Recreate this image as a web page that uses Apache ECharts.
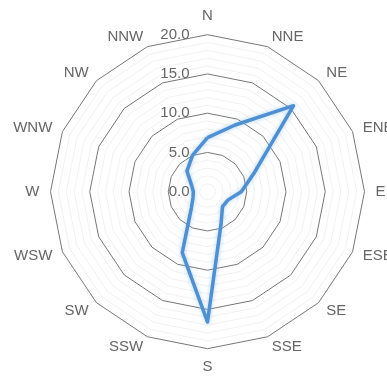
<!DOCTYPE html>
<html>
<head>
<meta charset="utf-8">
<script src="https://cdn.jsdelivr.net/npm/echarts@6/dist/echarts.min.js"></script>
<style>
  html, body { margin: 0; padding: 0; background: #fff; }
  #chart { width: 387px; height: 383px; }
</style>
</head>
<body>
<div id="chart"></div>
<script>
// Compass directions, listed clockwise from north
const directions = ['N', 'NNE', 'NE', 'ENE', 'E', 'ESE', 'SE', 'SSE',
                    'S', 'SSW', 'SW', 'WSW', 'W', 'WNW', 'NW', 'NNW'];
// Frequency per direction
const values = [6.9, 9.2, 15.5, 6.5, 4.3, 2.8, 2.7, 4.5,
                16.6, 8.4, 2.9, 2.0, 1.8, 2.2, 3.7, 5.0];
// Radial scale
const axisMin = 0;
const axisMax = 20;
const majorStep = 5;

// ECharts lays indicators out counter-clockwise, so keep N first and reverse the rest
const order = [0];
for (let i = directions.length - 1; i >= 1; i--) order.push(i);

const indicators = order.map(function (idx, k) {
  const ind = { name: directions[idx], min: axisMin, max: axisMax };
  if (k === 0) {
    ind.axisLabel = {
      show: true,
      color: '#666',
      fontSize: 15,
      fontFamily: 'Liberation Sans',
      margin: 18,
      formatter: function (v) {
        return (Math.round(v) % majorStep === 0) ? Number(v).toFixed(1) : '';
      }
    };
  }
  return ind;
});

// Every fifth ring is a major gridline, the others are faint minor rings
const ringColors = ['#777777', '#f1f1f1', '#f1f1f1', '#f1f1f1', '#f1f1f1'];

const chart = echarts.init(document.getElementById('chart'), null, { renderer: 'canvas' });
chart.setOption({
  animation: false,
  backgroundColor: '#ffffff',
  radar: {
    center: [207.5, 191.7],
    radius: 157,
    startAngle: 90,
    shape: 'polygon',
    splitNumber: (axisMax - axisMin),
    indicator: indicators,
    nameGap: 11,
    axisName: {
      color: '#666',
      fontSize: 15,
      fontFamily: 'Liberation Sans'
    },
    axisLine: { show: false },
    axisTick: { show: false },
    axisLabel: { show: false },
    splitArea: { show: false },
    splitLine: {
      lineStyle: { color: ringColors, width: 1 }
    }
  },
  series: [{
    type: 'radar',
    symbol: 'none',
    lineStyle: {
      color: '#4f8fd4',
      width: 3.5,
      shadowColor: 'rgba(120,180,240,0.6)',
      shadowBlur: 4
    },
    itemStyle: { color: '#4f8fd4' },
    data: [{ value: order.map(function (idx) { return values[idx]; }) }]
  }]
});
</script>
</body>
</html>
